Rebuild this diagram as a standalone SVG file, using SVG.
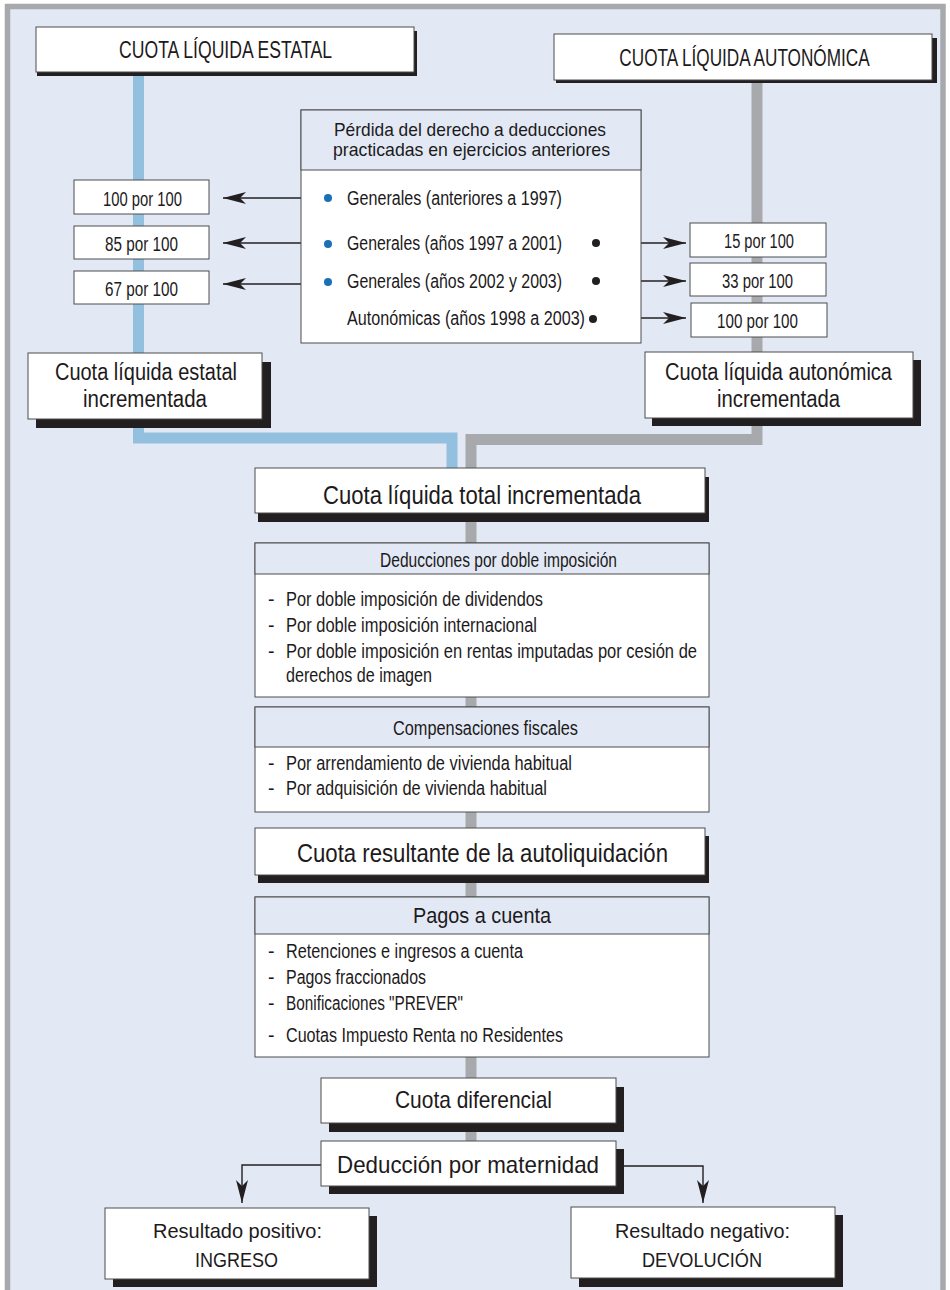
<svg xmlns="http://www.w3.org/2000/svg" width="950" height="1290" viewBox="0 0 950 1290">
<style>
text{font-family:"Liberation Sans",Arial,sans-serif;fill:#1d1a1b}
.bx{fill:#fff;stroke:#4d4d4d;stroke-width:1}
.hd{fill:#e2e9f5;stroke:#4d4d4d;stroke-width:1}
.sh{fill:#231f20}
.t23{font-size:23.5px}
.t25{font-size:25px}
.t24{font-size:24px}
.t21{font-size:21px}
.t20{font-size:20px}
.t19{font-size:19.5px}
.ar{fill:none;stroke:#231f20;stroke-width:1.4}
</style>
<defs>
<marker id="ah" markerUnits="userSpaceOnUse" viewBox="0 0 23 12" markerWidth="23" markerHeight="12" refX="23" refY="6" orient="auto">
<path d="M0,0 L23,6 L0,12 L6,6 Z" fill="#231f20"/>
</marker>
</defs>
<rect x="0" y="0" width="950" height="1290" fill="#fff"/>
<rect x="7.5" y="6.5" width="935.5" height="1300" fill="#e2e9f5" stroke="#a7a9ac" stroke-width="5.5"/>

<g id="connectors">
<path d="M138.5,72 V438 H452 V468" fill="none" stroke="#94c0e0" stroke-width="11"/>
<path d="M757,80 V439.5 H471 V1141" fill="none" stroke="#a7a9ac" stroke-width="11"/>
<path class="ar" d="M316,198 H223" marker-end="url(#ah)"/>
<path class="ar" d="M316,243 H223" marker-end="url(#ah)"/>
<path class="ar" d="M316,284 H223" marker-end="url(#ah)"/>
<path class="ar" d="M619,243 H686" marker-end="url(#ah)"/>
<path class="ar" d="M619,281 H686" marker-end="url(#ah)"/>
<path class="ar" d="M619,318 H686" marker-end="url(#ah)"/>
<path class="ar" d="M321,1165 H242 V1203" marker-end="url(#ah)"/>
<path class="ar" d="M624,1166 H703 V1203" marker-end="url(#ah)"/>
</g>

<g id="cuota-estatal">
<rect class="sh" x="37" y="31" width="380" height="45"/>
<rect class="bx" x="36" y="27" width="378" height="45"/>
<text class="t23" x="119" y="58" textLength="213" lengthAdjust="spacingAndGlyphs">CUOTA LÍQUIDA ESTATAL</text>
</g>

<g id="cuota-autonomica">
<rect class="sh" x="556" y="38" width="381" height="45"/>
<rect class="bx" x="554" y="34" width="378" height="46"/>
<text class="t23" transform="translate(744.5,66) scale(0.731,1)" text-anchor="middle">CUOTA LÍQUIDA AUTONÓMICA</text>
</g>

<g id="perdida">
<rect class="bx" x="301" y="110" width="340" height="233"/>
<rect class="hd" x="301" y="110" width="340" height="60"/>
<text x="334" y="136" font-size="19" textLength="272" lengthAdjust="spacingAndGlyphs">Pérdida del derecho a deducciones</text>
<text x="333" y="156" font-size="19" textLength="277" lengthAdjust="spacingAndGlyphs">practicadas en ejercicios anteriores</text>
<circle cx="328" cy="198" r="4" fill="#1a6fb5"/>
<circle cx="328" cy="244" r="4" fill="#1a6fb5"/>
<circle cx="328" cy="282" r="4" fill="#1a6fb5"/>
<circle cx="596" cy="243" r="4" fill="#231f20"/>
<circle cx="596" cy="281" r="4" fill="#231f20"/>
<circle cx="593" cy="319" r="4" fill="#231f20"/>
<text class="t20" x="347" y="205" textLength="215" lengthAdjust="spacingAndGlyphs">Generales (anteriores a 1997)</text>
<text class="t20" x="347" y="250" textLength="215" lengthAdjust="spacingAndGlyphs">Generales (años 1997 a 2001)</text>
<text class="t20" x="347" y="288" textLength="215" lengthAdjust="spacingAndGlyphs">Generales (años 2002 y 2003)</text>
<text class="t20" x="347" y="325" textLength="238" lengthAdjust="spacingAndGlyphs">Autonómicas (años 1998 a 2003)</text>
</g>

<g id="est-100">
<rect class="bx" x="74" y="180" width="135" height="34"/>
<text class="t19" x="103" y="206" textLength="79" lengthAdjust="spacingAndGlyphs">100 por 100</text>
</g>
<g id="est-85">
<rect class="bx" x="74" y="226" width="135" height="33"/>
<text class="t19" x="105" y="251" textLength="73" lengthAdjust="spacingAndGlyphs">85 por 100</text>
</g>
<g id="est-67">
<rect class="bx" x="74" y="271" width="135" height="33"/>
<text class="t19" x="105" y="296" textLength="73" lengthAdjust="spacingAndGlyphs">67 por 100</text>
</g>
<g id="aut-15">
<rect class="bx" x="690" y="223" width="136" height="34"/>
<text class="t19" x="724" y="248" textLength="70" lengthAdjust="spacingAndGlyphs">15 por 100</text>
</g>
<g id="aut-33">
<rect class="bx" x="690" y="263" width="136" height="33"/>
<text class="t19" x="722" y="288" textLength="71" lengthAdjust="spacingAndGlyphs">33 por 100</text>
</g>
<g id="aut-100">
<rect class="bx" x="691" y="303" width="136" height="34"/>
<text class="t19" x="717" y="328" textLength="81" lengthAdjust="spacingAndGlyphs">100 por 100</text>
</g>

<g id="estatal-incrementada">
<rect class="sh" x="36" y="362" width="235" height="66"/>
<rect class="bx" x="28" y="353" width="234" height="66"/>
<text class="t23" x="55" y="380" textLength="182" lengthAdjust="spacingAndGlyphs">Cuota líquida estatal</text>
<text class="t23" x="83" y="407" textLength="124" lengthAdjust="spacingAndGlyphs">incrementada</text>
</g>

<g id="autonomica-incrementada">
<rect class="sh" x="652" y="360" width="269" height="66"/>
<rect class="bx" x="645" y="352" width="268" height="66"/>
<text class="t23" x="665" y="380" textLength="227" lengthAdjust="spacingAndGlyphs">Cuota líquida autonómica</text>
<text class="t23" x="717" y="407" textLength="123" lengthAdjust="spacingAndGlyphs">incrementada</text>
</g>

<g id="total-incrementada">
<rect class="sh" x="258" y="477" width="451" height="45"/>
<rect class="bx" x="255" y="468" width="450" height="45"/>
<text class="t25" x="323" y="504" textLength="318" lengthAdjust="spacingAndGlyphs">Cuota líquida total incrementada</text>
</g>

<g id="doble-imposicion">
<rect class="bx" x="255" y="543" width="454" height="154"/>
<rect class="hd" x="255" y="543" width="454" height="31"/>
<text class="t20" x="380" y="567" textLength="237" lengthAdjust="spacingAndGlyphs">Deducciones por doble imposición</text>
<text class="t19" x="268" y="606">-</text>
<text class="t19" x="286" y="606" textLength="257" lengthAdjust="spacingAndGlyphs">Por doble imposición de dividendos</text>
<text class="t19" x="268" y="632">-</text>
<text class="t19" x="286" y="632" textLength="251" lengthAdjust="spacingAndGlyphs">Por doble imposición internacional</text>
<text class="t19" x="268" y="658">-</text>
<text class="t19" x="286" y="658" textLength="411" lengthAdjust="spacingAndGlyphs">Por doble imposición en rentas imputadas por cesión de</text>
<text class="t19" x="286" y="682" textLength="146" lengthAdjust="spacingAndGlyphs">derechos de imagen</text>
</g>

<g id="compensaciones">
<rect class="bx" x="255" y="707" width="454" height="105"/>
<rect class="hd" x="255" y="707" width="454" height="40"/>
<text class="t20" x="393" y="735" textLength="185" lengthAdjust="spacingAndGlyphs">Compensaciones fiscales</text>
<text class="t19" x="268" y="770">-</text>
<text class="t19" x="286" y="770" textLength="286" lengthAdjust="spacingAndGlyphs">Por arrendamiento de vivienda habitual</text>
<text class="t19" x="268" y="795">-</text>
<text class="t19" x="286" y="795" textLength="261" lengthAdjust="spacingAndGlyphs">Por adquisición de vivienda habitual</text>
</g>

<g id="cuota-resultante">
<rect class="sh" x="258" y="836" width="451" height="47"/>
<rect class="bx" x="255" y="828" width="450" height="47"/>
<text class="t25" x="297" y="862" textLength="371" lengthAdjust="spacingAndGlyphs">Cuota resultante de la autoliquidación</text>
</g>

<g id="pagos-cuenta">
<rect class="bx" x="255" y="897" width="454" height="160"/>
<rect class="hd" x="255" y="897" width="454" height="37"/>
<text x="413" y="923" font-size="22" textLength="138" lengthAdjust="spacingAndGlyphs">Pagos a cuenta</text>
<text class="t19" x="268" y="958">-</text>
<text class="t19" x="286" y="958" textLength="237" lengthAdjust="spacingAndGlyphs">Retenciones e ingresos a cuenta</text>
<text class="t19" x="268" y="984">-</text>
<text class="t19" x="286" y="984" textLength="140" lengthAdjust="spacingAndGlyphs">Pagos fraccionados</text>
<text class="t19" x="268" y="1010">-</text>
<text class="t19" x="286" y="1010" textLength="177" lengthAdjust="spacingAndGlyphs">Bonificaciones "PREVER"</text>
<text class="t19" x="268" y="1042">-</text>
<text class="t19" x="286" y="1042" textLength="277" lengthAdjust="spacingAndGlyphs">Cuotas Impuesto Renta no Residentes</text>
</g>

<g id="cuota-diferencial">
<rect class="sh" x="329" y="1087" width="295" height="45"/>
<rect class="bx" x="321" y="1078" width="295" height="45"/>
<text class="t24" x="395" y="1108" textLength="157" lengthAdjust="spacingAndGlyphs">Cuota diferencial</text>
</g>

<g id="deduccion-maternidad">
<rect class="sh" x="329" y="1149" width="295" height="45"/>
<rect class="bx" x="321" y="1141" width="295" height="45"/>
<text class="t24" x="337" y="1173" textLength="262" lengthAdjust="spacingAndGlyphs">Deducción por maternidad</text>
</g>

<g id="resultado-positivo">
<rect class="sh" x="113" y="1216" width="264" height="71"/>
<rect class="bx" x="105" y="1208" width="264" height="71"/>
<text class="t21" x="153" y="1238" textLength="169" lengthAdjust="spacingAndGlyphs">Resultado positivo:</text>
<text class="t21" x="195" y="1267" textLength="83" lengthAdjust="spacingAndGlyphs">INGRESO</text>
</g>

<g id="resultado-negativo">
<rect class="sh" x="579" y="1215" width="264" height="72"/>
<rect class="bx" x="571" y="1207" width="264" height="71"/>
<text class="t21" x="615" y="1238" textLength="175" lengthAdjust="spacingAndGlyphs">Resultado negativo:</text>
<text class="t21" x="642" y="1267" textLength="120" lengthAdjust="spacingAndGlyphs">DEVOLUCIÓN</text>
</g>
</svg>
